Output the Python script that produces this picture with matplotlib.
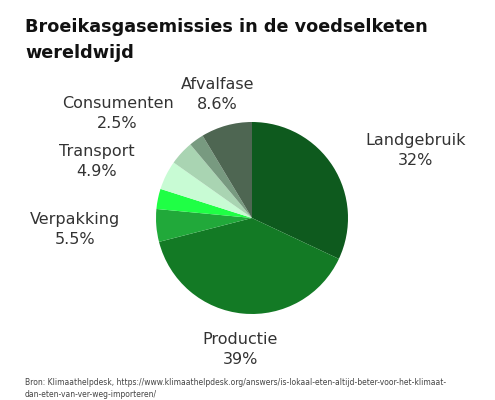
import matplotlib
matplotlib.use("Agg")
import matplotlib.pyplot as plt

# data (clockwise from 12 o'clock)
names = ["Landgebruik", "Productie", "Verpakking", "", "Transport", "", "Consumenten", "Afvalfase"]
shares = [32, 39, 5.5, 3.4, 4.9, 4.1, 2.5, 8.6]
pct_labels = ["32%", "39%", "5.5%", "", "4.9%", "", "2.5%", "8.6%"]
colors = ["#0e5a1e", "#137a25", "#21a93a", "#1fff45", "#c8fbd4", "#a9d4b2", "#789a80", "#4e6652"]

# label block centres, in pie units (radius = 1)
label_pos = [(1.70, 0.70), (-0.125, -1.37), (-1.84, -0.115), None,
             (-1.62, 0.59), None, (-1.40, 1.085), (-0.36, 1.29)]

W, H = 495, 400
fig = plt.figure(figsize=(W / 100, H / 100), dpi=100)
fig.patch.set_facecolor("white")

cx, cy, r = 252, 218, 96
ax = fig.add_axes([(cx - r) / W, (H - cy - r) / H, 2 * r / W, 2 * r / H])
ax.pie(shares, colors=colors, startangle=90, counterclock=False,
       wedgeprops=dict(linewidth=0))
ax.set_xlim(-1, 1)
ax.set_ylim(-1, 1)
ax.axis("off")

for name, pct, pos in zip(names, pct_labels, label_pos):
    if pos is None:
        continue
    ax.text(pos[0], pos[1], name + "\n" + pct, ha="center", va="center",
            fontsize=11.5, color="#333333", linespacing=1.42, clip_on=False)

fig.text(25 / W, 1 - 40 / H, "Broeikasgasemissies in de voedselketen\nwereldwijd",
         ha="left", va="center", fontsize=12.7, fontweight="bold", color="#111111",
         linespacing=1.55)
fig.text(25 / W, 1 - 378 / H,
         "Bron: Klimaathelpdesk, https://www.klimaathelpdesk.org/answers/is-lokaal-eten-altijd-beter-voor-het-klimaat-\n"
         "dan-eten-van-ver-weg-importeren/",
         ha="left", va="top", fontsize=5.5, color="#444444", linespacing=1.45)

fig.savefig("out.png", dpi=100)
